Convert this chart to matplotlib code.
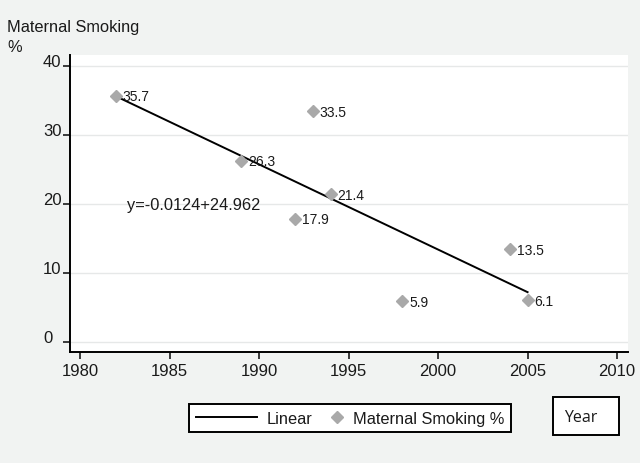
import numpy as np
import matplotlib
matplotlib.use("Agg")
import matplotlib.pyplot as plt
from matplotlib.legend_handler import HandlerLine2D
from matplotlib.patches import Rectangle

# Data
years = [1982, 1989, 1992, 1993, 1994, 1998, 2004, 2005]
smoking = [35.7, 26.3, 17.9, 33.5, 21.4, 5.9, 13.5, 6.1]
x_ticks = [1980, 1985, 1990, 1995, 2000, 2005, 2010]
y_ticks = [0, 10, 20, 30, 40]
equation = "y=-0.0124+24.962"

BG = "#f1f3f2"
MARKER = "#a9a9a9"
plt.rcParams["font.family"] = ["Liberation Sans", "DejaVu Sans"]


# Legend handler that puts the single marker near the right end of the handle
class RightMarkerHandler(HandlerLine2D):
    def get_xdata(self, legend, xdescent, ydescent, width, height, fontsize):
        off = 0.35 * fontsize
        xdata = np.array([-xdescent + width - 2 * off, -xdescent + width])
        return xdata, np.array([-xdescent + width - off])


fig = plt.figure(figsize=(6.4, 4.64), dpi=100, facecolor=BG)
ax = fig.add_axes([70 / 640, 1 - 353 / 464, 558 / 640, 297 / 464])
ax.set_facecolor("white")

# Linear fit through the points
slope, intercept = np.polyfit(years, smoking, 1)
fit_x = np.array([min(years), max(years)])
fit_line, = ax.plot(fit_x, slope * fit_x + intercept, color="black", lw=1.4,
                    zorder=3, label="Linear")

# Scatter points with value labels
points, = ax.plot(years, smoking, linestyle="none", marker="D", markersize=6,
                  color=MARKER, zorder=4, label="Maternal Smoking %")
for x, y in zip(years, smoking):
    ax.annotate(f"{y}", (x, y), xytext=(5, -0.5), textcoords="offset points",
                va="center", ha="left", fontsize=10, color="#1a1a1a", zorder=5)

ax.text(1982.6, 19.9, equation, fontsize=11.8, va="center", ha="left",
        color="#1a1a1a")

# Axes styling
ax.set_xlim(1979.44, 2010.61)
ax.set_ylim(-1.45, 41.6)
ax.set_xticks(x_ticks)
ax.set_yticks(y_ticks)
ax.grid(axis="y", color="#e6e8e8", lw=1.0)
ax.set_axisbelow(True)
for side in ["top", "right"]:
    ax.spines[side].set_visible(False)
for side in ["left", "bottom"]:
    ax.spines[side].set_linewidth(1.4)
ax.tick_params(axis="x", direction="out", length=5, width=1.2, pad=3,
               labelsize=12, colors="#1a1a1a")
ax.tick_params(axis="y", direction="out", length=5, width=1.2, pad=14.4,
               labelsize=12, colors="#1a1a1a")
for lab in ax.get_yticklabels():
    lab.set_horizontalalignment("left")
    lab.set_verticalalignment("baseline")

# Title at top left
fig.text(7 / 640, 1 - 32 / 464, "Maternal Smoking", fontsize=11.8,
         va="baseline", ha="left", color="#1a1a1a")
fig.text(7 / 640, 1 - 52 / 464, "%", fontsize=11.8, va="baseline", ha="left",
         color="#1a1a1a")

# Legend below the plot
leg = fig.legend(handles=[fit_line, points], loc="upper left",
                 bbox_to_anchor=(189 / 640, 1 - 405 / 464), ncol=2,
                 fontsize=11.8, handlelength=3.75, handletextpad=0.6,
                 columnspacing=-1.9, borderpad=0.4, borderaxespad=0,
                 fancybox=False, frameon=True, framealpha=1,
                 handler_map={points: RightMarkerHandler(numpoints=1)})
leg.get_frame().set_edgecolor("black")
leg.get_frame().set_linewidth(1.4)
for t in leg.get_texts():
    t.set_color("#1a1a1a")

# "Year" box
fig.patches.append(Rectangle((553 / 640, 1 - 436 / 464), 66 / 640, 38 / 464,
                             transform=fig.transFigure, facecolor="white",
                             edgecolor="black", lw=1.4))
fig.text(564 / 640, 1 - 422 / 464, "Year", fontsize=11.5, va="baseline",
         ha="left", family=["Open Sans", "DejaVu Sans"], color="#1a1a1a")

fig.savefig("out.png", dpi=100, facecolor=BG)
